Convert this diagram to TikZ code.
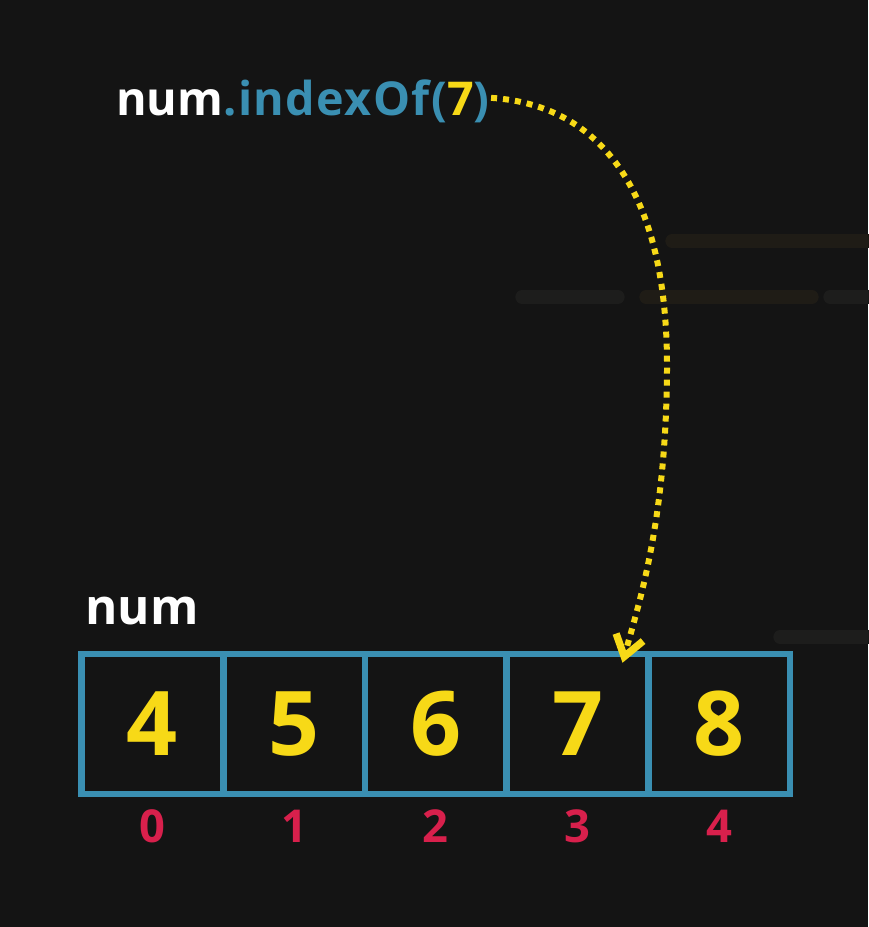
\documentclass[tikz,border=0pt]{standalone}
\usepackage{fontspec}
\setmainfont{Open Sans}
\usetikzlibrary{arrows.meta}
\definecolor{bg}{HTML}{141414}
\definecolor{streak}{HTML}{1D1D1C}
\definecolor{streakb}{HTML}{1F1C16}
\definecolor{cblue}{HTML}{3A8FB2}
\definecolor{cyel}{HTML}{F7D917}
\definecolor{cred}{HTML}{D8204C}
\tikzset{
  cell/.style={draw=cblue, line width=4.9pt, minimum width=106.3pt, minimum height=105pt,
    inner sep=0pt, text=cyel, font=\fontsize{67}{67}\selectfont\bfseries},
  idx/.style={inner sep=0pt, text=cred, font=\fontsize{34}{34}\selectfont\bfseries},
  label/.style={inner sep=0pt, anchor=base west, text=white},
  dotline/.style={draw=cyel, line width=4.5pt, dash pattern=on 4.5pt off 4.5pt},
  streakbar/.style={line width=10pt, line cap=round}
}
\begin{document}
\begin{tikzpicture}[x=0.75pt,y=-0.75pt]
\useasboundingbox (0,0) rectangle (868,927);
\fill[bg] (0,0) rectangle (868,927);
% faint background streaks
\draw[streakbar, streak] (522,297) -- (618,297);
\draw[streakbar, streakb] (646,297) -- (812,297);
\draw[streakbar, streakb] (672,241) -- (868,241);
\draw[streakbar, streak] (780,637) -- (868,637);
\draw[streakbar, streak] (830,297) -- (868,297);
% call text
\node[label, font=\fontsize{35}{35}\selectfont\bfseries] (call) at (116,116)
  {\textcolor{white}{num}{\addfontfeature{LetterSpace=3}\textcolor{cblue}{.indexOf(}\textcolor{cyel}{7}\textcolor{cblue}{)}}};
% array label
\node[label, font=\fontsize{37}{37}\selectfont\bfseries] (name) at (85,624) {num};
% cells
\foreach \v [count=\i from 0] in {4,5,6,7,8} {
  \node[cell] (c\i) at (152.4+141.7*\i,724) {\v};
  \node[idx] (i\i) at (152.4+141.7*\i,826) {\i};
}
\coordinate (tip) at ([shift={(45,12)}]c3.north);
\draw[dotline, -{Straight Barb[length=15pt,width=21pt,line width=5.5pt]}]
  ([xshift=1pt,yshift=3pt]call.east) .. controls (600,105) and (668,190) .. (667,370)
  .. controls (666,520) and (640,600) .. (tip);
\end{tikzpicture}
\end{document}
